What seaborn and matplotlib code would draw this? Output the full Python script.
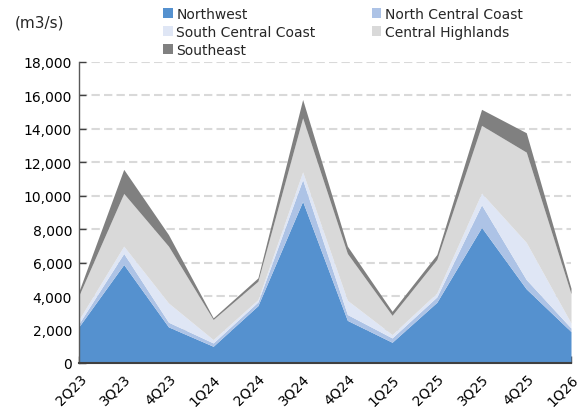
import matplotlib
matplotlib.use("Agg")
import matplotlib.pyplot as plt
import seaborn as sns
import numpy as np
from matplotlib.patches import Patch
from matplotlib.ticker import FuncFormatter

quarters = ['2Q23', '3Q23', '4Q23', '1Q24', '2Q24', '3Q24', '4Q24', '1Q25', '2Q25', '3Q25', '4Q25', '1Q26']
series_names = ['Northwest', 'North Central Coast', 'South Central Coast', 'Central Highlands', 'Southeast']

# values per region (m3/s)
northwest           = [2180, 5890, 2160, 1000, 3430, 9670, 2550, 1240, 3630, 8110, 4430, 1880]
north_central_coast = [ 180,  660,  280,  200,  220, 1300,  350,  260,  320, 1350,  560,  210]
south_central_coast = [ 240,  440, 1150,  200,  140,  460,  850,  200,  240,  700, 2220,  300]
central_highlands   = [1450, 3150, 3400, 1200, 1100, 3230, 2800, 1150, 2000, 4050, 5400, 1750]
southeast           = [ 250, 1440,  690,  100,  200, 1100,  440,  240,  300,  960, 1160,  330]

colors = ['#5591CF', '#ADC3E6', '#DFE6F5', '#D9D9D9', '#808080']

sns.set_theme(style="white")
plt.rcParams['font.family'] = ['DejaVu Sans']

fig = plt.figure(figsize=(5.83, 4.14), dpi=100)
ax = fig.add_axes([79/583, 1-364/414, (571-79)/583, (364-63)/414])

x = np.arange(len(quarters))
ax.stackplot(x, northwest, north_central_coast, south_central_coast,
             central_highlands, southeast, colors=colors, linewidth=0, zorder=3)

ax.set_xlim(0, len(quarters) - 1)
ax.set_ylim(0, 18000)
ax.set_yticks(np.arange(0, 18001, 2000))
ax.yaxis.set_major_formatter(FuncFormatter(lambda v, p: f"{int(v):,}"))
ax.set_xticks(x)
ax.set_xticklabels(quarters, rotation=45, ha='right', rotation_mode='anchor')

ax.grid(axis='y', color='#D9D9D9', linestyle=(0, (4, 2)), linewidth=1.5, zorder=0)
ax.grid(axis='x', visible=False)
ax.set_axisbelow(True)

for s in ['top', 'right']:
    ax.spines[s].set_visible(False)
ax.spines['left'].set_color('#595959')
ax.spines['left'].set_linewidth(1.0)
ax.spines['bottom'].set_color('#404040')
ax.spines['bottom'].set_linewidth(1.5)
ax.spines['left'].set_zorder(5)
ax.spines['bottom'].set_zorder(5)

ax.tick_params(axis='both', direction='in', length=5, width=1, color='#404040',
               labelsize=10, labelcolor='black', left=True, bottom=True, pad=5)
ax.tick_params(axis='x', pad=6)

fig.text(15/583, 1-23/414, '(m3/s)', fontsize=11, va='center', ha='left')

# legend filled row-wise: reorder for matplotlib's column-major fill
order = [0, 2, 4, 1, 3]
handles = [Patch(facecolor=colors[i], edgecolor='none') for i in order]
labels = [series_names[i] for i in order]
leg = fig.legend(handles, labels, ncol=2, loc='upper left',
                 bbox_to_anchor=(163/583, 1-8/414), frameon=False,
                 fontsize=10, handlelength=0.7, handleheight=0.7,
                 handletextpad=0.25, columnspacing=4.05, labelspacing=0.28,
                 borderpad=0, borderaxespad=0)

fig.savefig('out.png', dpi=100)
